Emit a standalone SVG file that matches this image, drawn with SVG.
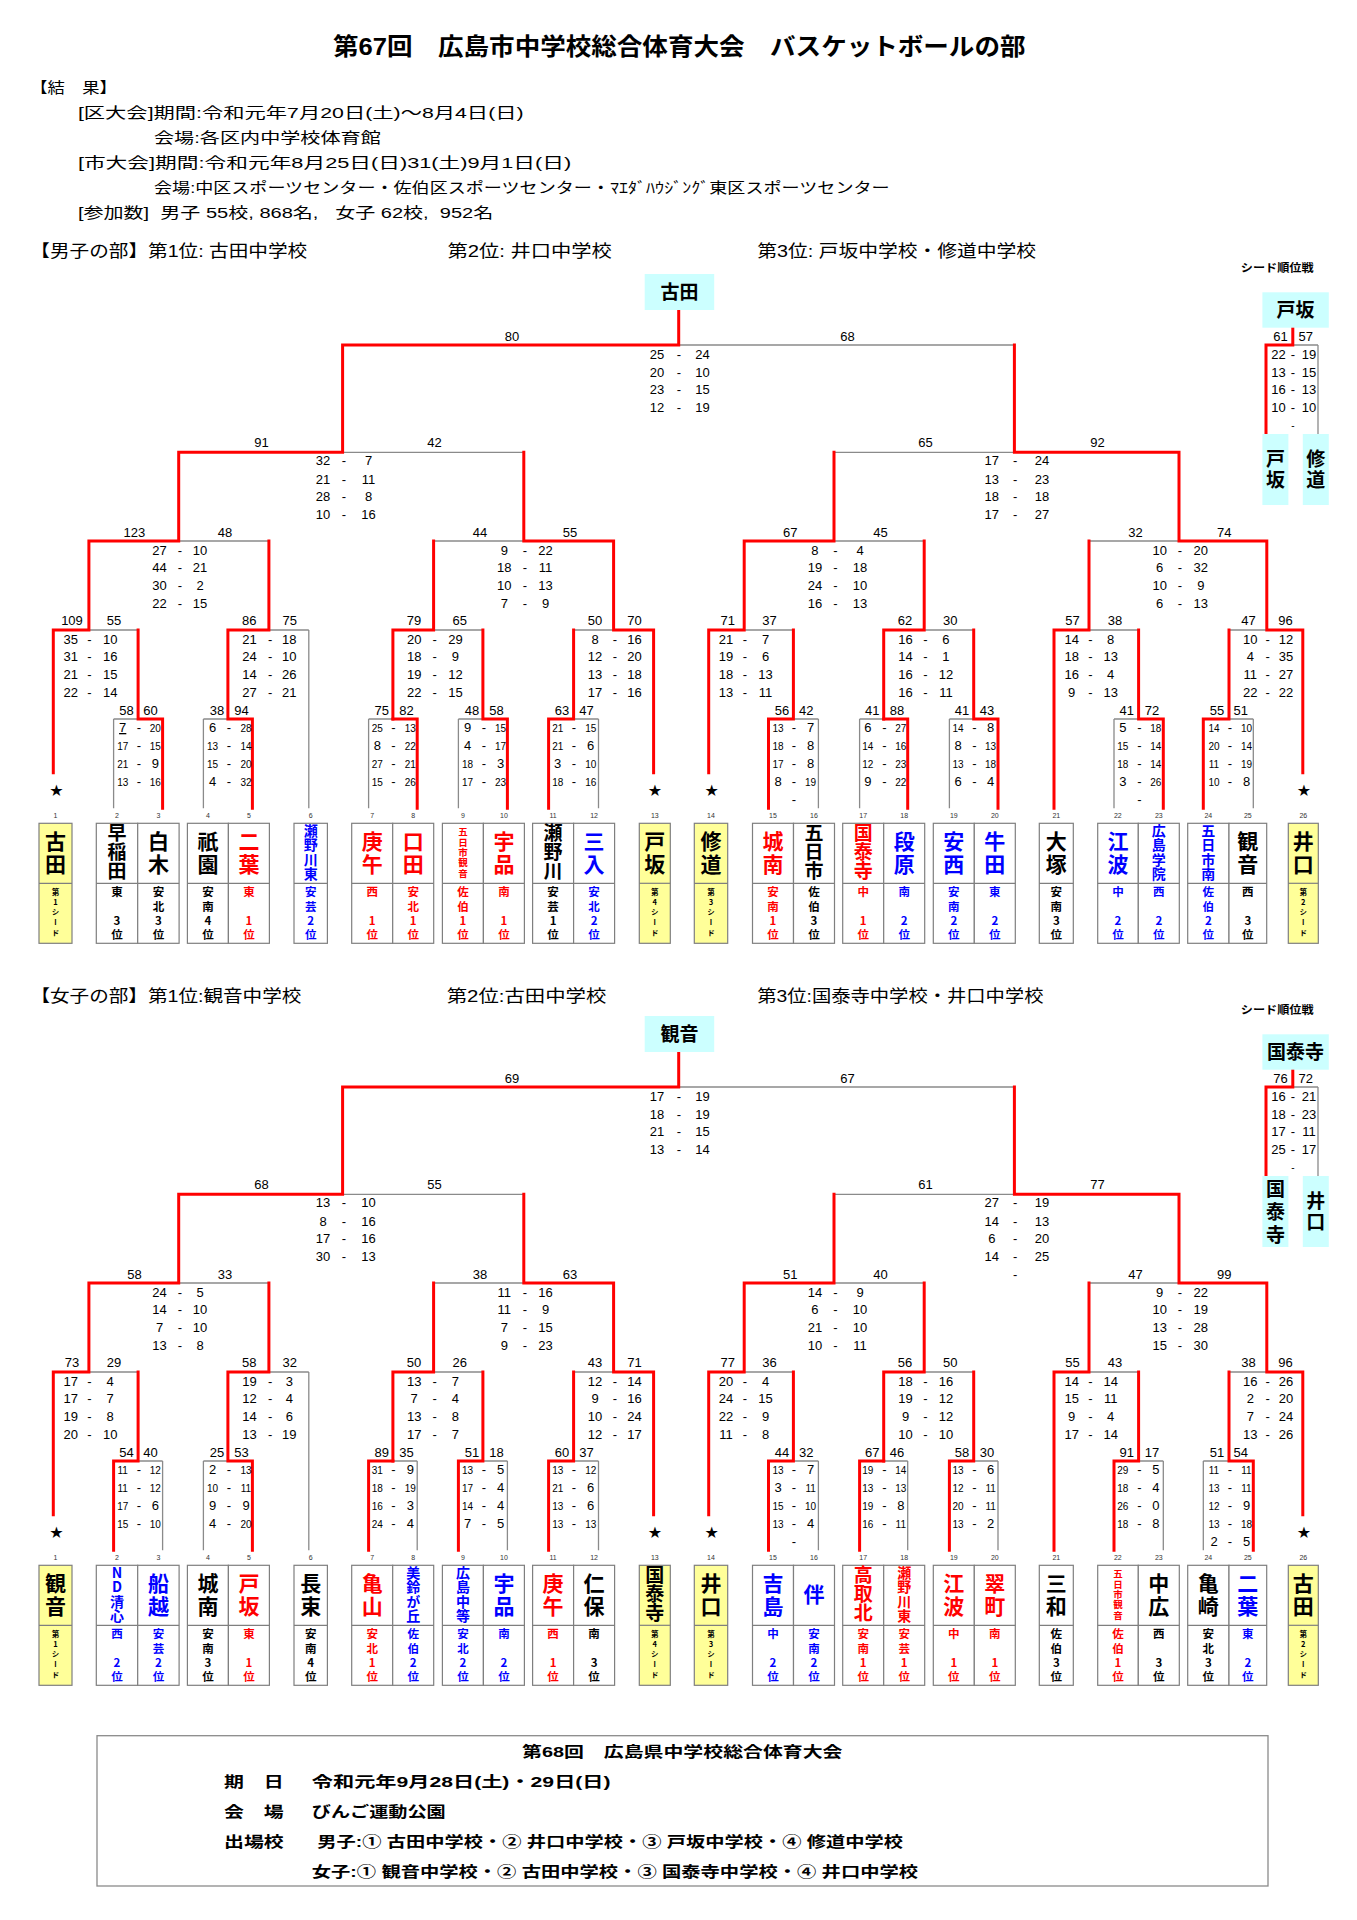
<svg xmlns="http://www.w3.org/2000/svg" xmlns:xlink="http://www.w3.org/1999/xlink" width="1357" height="1920" viewBox="0 0 1357 1920">
<style>
text{font-family:"Liberation Sans","Noto Sans CJK JP",sans-serif;fill:#000}
.hd{font-size:15px}
.hb{font-size:17px}
.ttl{font-size:24px;font-weight:bold}
.ft{font-size:15px;font-weight:bold}
.num{font-family:"Liberation Sans","DejaVu Sans",sans-serif;font-size:13px;text-anchor:middle}
.s{font-size:10px}
.sn{font-family:"Liberation Sans",sans-serif;font-size:7px;text-anchor:middle;fill:#333}
.star{font-family:"DejaVu Sans",sans-serif;font-size:16px;text-anchor:middle}
.bx{font-family:"Noto Sans CJK JP",sans-serif;font-weight:bold;font-size:19px;text-anchor:middle}
.sq{font-family:"Noto Sans CJK JP",sans-serif;font-weight:bold;font-size:11px}
.v{writing-mode:vertical-rl;text-orientation:upright;text-anchor:start}
.nm{font-family:"Noto Sans CJK JP",sans-serif;font-weight:bold;font-size:21px;letter-spacing:2px}
.n3{font-size:19px;letter-spacing:0}
.n4{font-size:14px;letter-spacing:.5px}
.n5{font-size:9.5px;letter-spacing:.8px}
.sb{font-family:"Noto Sans CJK JP",sans-serif;font-weight:bold;font-size:11.5px;letter-spacing:2.8px}
.sd{font-family:"Noto Sans CJK JP",sans-serif;font-weight:bold;font-size:7.5px;letter-spacing:2.7px}
.k2{letter-spacing:2.7px}.k3{letter-spacing:4.3px}
.rd{fill:#ff0000}.bl{fill:#0000ff}
.c{fill:#fff;stroke:#7f7f7f;stroke-width:1.2}
.y{fill:#ffff99;stroke:#7f7f7f;stroke-width:1.2}
.dv{fill:none;stroke:#7f7f7f;stroke-width:1.2}
.cy{fill:#ccffff}
.g{fill:none;stroke:#8a8a8a;stroke-width:1.3}
.r{fill:none;stroke:#ff0000;stroke-width:3;stroke-linecap:square;stroke-linejoin:miter}
</style>
<defs>
<path id="gb" class="g" d="M53.3,630V772.7M113.6,719V808.3M162.6,719V808.3M203.4,719V808.3M252.4,719V808.3M308.8,630V808.3M368.6,719V808.3M417.2,719V808.3M458.4,719V808.3M507.4,719V808.3M548.6,719V808.3M598.5,719V808.3M653.6,630V772.7M708.7,630V772.7M768.5,719V808.3M818.4,719V808.3M859.6,719V808.3M907.7,719V808.3M949.4,719V808.3M998,719V808.3M1054,630V808.3M1114,719V808.3M1163.3,719V808.3M1203.3,719V808.3M1253.3,719V808.3M1302.8,630V772.7M113.6,719H162.6M203.4,719H252.4M368.6,719H417.2M458.4,719H507.4M548.6,719H598.5M768.5,719H818.4M859.6,719H907.7M949.4,719H998M1114,719H1163.3M1203.3,719H1253.3M53.3,630H138.1M227.9,630H308.8M392.9,630H482.9M573.6,630H653.6M708.7,630H793.4M883.7,630H973.7M1054,630H1138.6M1229,630H1302.8M88.9,541H268.9M433.6,541H613.6M744.2,541H924.2M1089,541H1266.8M178.7,452.3H523.8M834,452.3H1179M342.6,345H1014.4M1266,345H1318M1318,345V434"/>
<path id="rc" class="r" d="M53.3,772.7V630H88.9V541H178.7V452.3H342.6V345H678.7V310M653.6,772.7V630H613.6V541H523.8V452.3M708.7,772.7V630H744.2V541H834V452.3M1302.8,772.7V630H1266.8V541H1179V452.3H1014.4V345M252.4,808.3V719H227.9V630H268.9V541M392.9,719V630H433.6V541M883.7,719V630H924.2V541M1054,808.3V630H1089V541M1292.8,327.7V345H1266V434"/>
</defs>
<rect width="1357" height="1920" fill="#fff"/>

<g id="header">
<text class="ttl" x="333" y="55" textLength="692.5" lengthAdjust="spacingAndGlyphs">第67回　広島市中学校総合体育大会　バスケットボールの部</text>
<text class="hd" x="30.3" y="93" textLength="86.5" lengthAdjust="spacingAndGlyphs">【結　果】</text>
<text class="hd" x="77.9" y="117.5" textLength="445.7" lengthAdjust="spacingAndGlyphs">[区大会]期間:令和元年7月20日(土)～8月4日(日)</text>
<text class="hd" x="154" y="142.5" textLength="226.8" lengthAdjust="spacingAndGlyphs">会場:各区内中学校体育館</text>
<text class="hd" x="77.9" y="167.5" textLength="493.3" lengthAdjust="spacingAndGlyphs">[市大会]期間:令和元年8月25日(日)31(土)9月1日(日)</text>
<text class="hd" x="154" y="192.5" textLength="735.6" lengthAdjust="spacingAndGlyphs">会場:中区スポーツセンター・佐伯区スポーツセンター・ﾏｴﾀﾞﾊｳｼﾞﾝｸﾞ東区スポーツセンター</text>
<text class="hd" x="77.9" y="217.5" textLength="415.4" lengthAdjust="spacingAndGlyphs" xml:space="preserve">[参加数]  男子 55校, 868名,   女子 62校,  952名</text>
<text class="hb" x="30.3" y="256.5" textLength="276.9" lengthAdjust="spacingAndGlyphs">【男子の部】第1位: 古田中学校</text>
<text class="hb" x="447.4" y="256.5" textLength="164.4" lengthAdjust="spacingAndGlyphs">第2位: 井口中学校</text>
<text class="hb" x="757.2" y="256.5" textLength="278.7" lengthAdjust="spacingAndGlyphs">第3位: 戸坂中学校・修道中学校</text>
<text class="hb" x="30.4" y="1001.5" textLength="271" lengthAdjust="spacingAndGlyphs">【女子の部】第1位:観音中学校</text>
<text class="hb" x="446.7" y="1001.5" textLength="159.6" lengthAdjust="spacingAndGlyphs">第2位:古田中学校</text>
<text class="hb" x="757.2" y="1001.5" textLength="286.3" lengthAdjust="spacingAndGlyphs">第3位:国泰寺中学校・井口中学校</text>
</g>

<g id="connectors">
<use xlink:href="#gb"/>
<use xlink:href="#rc"/>
<path class="r" d="M162.6,808.3V719H138.1V630M417.2,808.3V719H392.9M507.4,808.3V719H482.9V630M548.6,808.3V719H573.6V630M768.5,808.3V719H793.4V630M907.7,808.3V719H883.7M998,808.3V719H973.7V630M1163.3,808.3V719H1138.6V630M1203.3,808.3V719H1229V630"/>
<g transform="translate(0,742)">
<use xlink:href="#gb"/>
<use xlink:href="#rc"/>
<path class="r" d="M113.6,808.3V719H138.1V630M368.6,808.3V719H392.9M458.4,808.3V719H482.9V630M548.6,808.3V719H573.6V630M768.5,808.3V719H793.4V630M859.6,808.3V719H883.7M949.4,808.3V719H973.7V630M1114,808.3V719H1138.6V630M1253.3,808.3V719H1229V630"/>
</g>
</g>

<g id="men">
<g id="m-champ"><rect class="cy" x="644.7" y="274" width="69.5" height="36"/><text class="bx" x="679.4" y="299">古田</text></g>
<text class="sq" x="1240.8" y="271.5" textLength="72.8" lengthAdjust="spacingAndGlyphs">シード順位戦</text>
<g id="m-seed-top"><rect class="cy" x="1262.4" y="292.3" width="66.4" height="35.4"/><text class="bx" x="1295.6" y="317">戸坂</text></g>
<g id="m-seed-a"><rect class="cy" x="1262.4" y="434" width="26" height="71"/><text class="bx v k2" x="1275.4" y="448.8">戸坂</text></g>
<g id="m-seed-b"><rect class="cy" x="1302.8" y="434" width="26" height="71"/><text class="bx v k2" x="1315.8" y="448.8">修道</text></g>

<g id="m-labels">
<text class="num" y="341.3"><tspan x="512">80</tspan><tspan x="847.4">68</tspan><tspan x="1280.6">61</tspan><tspan x="1305.8">57</tspan></text>
<text class="num" y="447.3"><tspan x="261.5">91</tspan><tspan x="434.5">42</tspan><tspan x="925.5">65</tspan><tspan x="1097.6">92</tspan></text>
<text class="num" y="537"><tspan x="134.4">123</tspan><tspan x="225">48</tspan><tspan x="480">44</tspan><tspan x="570">55</tspan><tspan x="790.2">67</tspan><tspan x="880.4">45</tspan><tspan x="1135.4">32</tspan><tspan x="1224.3">74</tspan></text>
<text class="num" y="625.3"><tspan x="72">109</tspan><tspan x="114">55</tspan><tspan x="249.3">86</tspan><tspan x="289.7">75</tspan><tspan x="414">79</tspan><tspan x="459.7">65</tspan><tspan x="595">50</tspan><tspan x="634.4">70</tspan><tspan x="727.7">71</tspan><tspan x="769.4">37</tspan><tspan x="905">62</tspan><tspan x="950.2">30</tspan><tspan x="1072.5">57</tspan><tspan x="1115">38</tspan><tspan x="1248.5">47</tspan><tspan x="1285.4">96</tspan></text>
<text class="num" y="714.6"><tspan x="126.6">58</tspan><tspan x="150.5">60</tspan><tspan x="216.9">38</tspan><tspan x="241.6">94</tspan><tspan x="381.7">75</tspan><tspan x="406.4">82</tspan><tspan x="471.9">48</tspan><tspan x="496.6">58</tspan><tspan x="562.1">63</tspan><tspan x="586.4">47</tspan><tspan x="782">56</tspan><tspan x="806.2">42</tspan><tspan x="872.2">41</tspan><tspan x="896.9">88</tspan><tspan x="962">41</tspan><tspan x="987.1">43</tspan><tspan x="1126.7">41</tspan><tspan x="1151.9">72</tspan><tspan x="1217">55</tspan><tspan x="1240.8">51</tspan></text>
</g>

<g id="m-scores">
<text class="num" y="359"><tspan x="657">25</tspan><tspan x="679">-</tspan><tspan x="702.6">24</tspan><tspan x="1278.5">22</tspan><tspan x="1293">-</tspan><tspan x="1309">19</tspan></text>
<text class="num" y="376.6"><tspan x="657">20</tspan><tspan x="679">-</tspan><tspan x="702.6">10</tspan><tspan x="1278.5">13</tspan><tspan x="1293">-</tspan><tspan x="1309">15</tspan></text>
<text class="num" y="394.3"><tspan x="657">23</tspan><tspan x="679">-</tspan><tspan x="702.6">15</tspan><tspan x="1278.5">16</tspan><tspan x="1293">-</tspan><tspan x="1309">13</tspan></text>
<text class="num" y="412"><tspan x="657">12</tspan><tspan x="679">-</tspan><tspan x="702.6">19</tspan><tspan x="1278.5">10</tspan><tspan x="1293">-</tspan><tspan x="1309">10</tspan></text>
<text class="num s" y="429"><tspan x="1293">-</tspan></text>
<text class="num" y="465.3"><tspan x="323">32</tspan><tspan x="344">-</tspan><tspan x="368.6">7</tspan><tspan x="991.8">17</tspan><tspan x="1015.2">-</tspan><tspan x="1042">24</tspan></text>
<text class="num" y="483.6"><tspan x="323">21</tspan><tspan x="344">-</tspan><tspan x="368.6">11</tspan><tspan x="991.8">13</tspan><tspan x="1015.2">-</tspan><tspan x="1042">23</tspan></text>
<text class="num" y="501.3"><tspan x="323">28</tspan><tspan x="344">-</tspan><tspan x="368.6">8</tspan><tspan x="991.8">18</tspan><tspan x="1015.2">-</tspan><tspan x="1042">18</tspan></text>
<text class="num" y="519"><tspan x="323">10</tspan><tspan x="344">-</tspan><tspan x="368.6">16</tspan><tspan x="991.8">17</tspan><tspan x="1015.2">-</tspan><tspan x="1042">27</tspan></text>
<text class="num" y="554.6"><tspan x="159.6">27</tspan><tspan x="180">-</tspan><tspan x="200">10</tspan><tspan x="504.3">9</tspan><tspan x="525">-</tspan><tspan x="545.5">22</tspan><tspan x="814.9">8</tspan><tspan x="835.3">-</tspan><tspan x="860">4</tspan><tspan x="1159.7">10</tspan><tspan x="1180">-</tspan><tspan x="1200.8">20</tspan></text>
<text class="num" y="572.3"><tspan x="159.6">44</tspan><tspan x="180">-</tspan><tspan x="200">21</tspan><tspan x="504.3">18</tspan><tspan x="525">-</tspan><tspan x="545.5">11</tspan><tspan x="814.9">19</tspan><tspan x="835.3">-</tspan><tspan x="860">18</tspan><tspan x="1159.7">6</tspan><tspan x="1180">-</tspan><tspan x="1200.8">32</tspan></text>
<text class="num" y="590.3"><tspan x="159.6">30</tspan><tspan x="180">-</tspan><tspan x="200">2</tspan><tspan x="504.3">10</tspan><tspan x="525">-</tspan><tspan x="545.5">13</tspan><tspan x="814.9">24</tspan><tspan x="835.3">-</tspan><tspan x="860">10</tspan><tspan x="1159.7">10</tspan><tspan x="1180">-</tspan><tspan x="1200.8">9</tspan></text>
<text class="num" y="608"><tspan x="159.6">22</tspan><tspan x="180">-</tspan><tspan x="200">15</tspan><tspan x="504.3">7</tspan><tspan x="525">-</tspan><tspan x="545.5">9</tspan><tspan x="814.9">16</tspan><tspan x="835.3">-</tspan><tspan x="860">13</tspan><tspan x="1159.7">6</tspan><tspan x="1180">-</tspan><tspan x="1200.8">13</tspan></text>
<text class="num" y="643.6"><tspan x="70.7">35</tspan><tspan x="89.3">-</tspan><tspan x="110.2">10</tspan><tspan x="249.4">21</tspan><tspan x="270.2">-</tspan><tspan x="289.3">18</tspan><tspan x="414.2">20</tspan><tspan x="434.6">-</tspan><tspan x="455.4">29</tspan><tspan x="595">8</tspan><tspan x="615">-</tspan><tspan x="634.5">16</tspan><tspan x="726">21</tspan><tspan x="745">-</tspan><tspan x="765.5">7</tspan><tspan x="905.6">16</tspan><tspan x="925.5">-</tspan><tspan x="945.9">6</tspan><tspan x="1071.7">14</tspan><tspan x="1090.3">-</tspan><tspan x="1110.7">8</tspan><tspan x="1250.3">10</tspan><tspan x="1267.7">-</tspan><tspan x="1286">12</tspan></text>
<text class="num" y="661.3"><tspan x="70.7">31</tspan><tspan x="89.3">-</tspan><tspan x="110.2">16</tspan><tspan x="249.4">24</tspan><tspan x="270.2">-</tspan><tspan x="289.3">10</tspan><tspan x="414.2">18</tspan><tspan x="434.6">-</tspan><tspan x="455.4">9</tspan><tspan x="595">12</tspan><tspan x="615">-</tspan><tspan x="634.5">20</tspan><tspan x="726">19</tspan><tspan x="745">-</tspan><tspan x="765.5">6</tspan><tspan x="905.6">14</tspan><tspan x="925.5">-</tspan><tspan x="945.9">1</tspan><tspan x="1071.7">18</tspan><tspan x="1090.3">-</tspan><tspan x="1110.7">13</tspan><tspan x="1250.3">4</tspan><tspan x="1267.7">-</tspan><tspan x="1286">35</tspan></text>
<text class="num" y="679"><tspan x="70.7">21</tspan><tspan x="89.3">-</tspan><tspan x="110.2">15</tspan><tspan x="249.4">14</tspan><tspan x="270.2">-</tspan><tspan x="289.3">26</tspan><tspan x="414.2">19</tspan><tspan x="434.6">-</tspan><tspan x="455.4">12</tspan><tspan x="595">13</tspan><tspan x="615">-</tspan><tspan x="634.5">18</tspan><tspan x="726">18</tspan><tspan x="745">-</tspan><tspan x="765.5">13</tspan><tspan x="905.6">16</tspan><tspan x="925.5">-</tspan><tspan x="945.9">12</tspan><tspan x="1071.7">16</tspan><tspan x="1090.3">-</tspan><tspan x="1110.7">4</tspan><tspan x="1250.3">11</tspan><tspan x="1267.7">-</tspan><tspan x="1286">27</tspan></text>
<text class="num" y="697"><tspan x="70.7">22</tspan><tspan x="89.3">-</tspan><tspan x="110.2">14</tspan><tspan x="249.4">27</tspan><tspan x="270.2">-</tspan><tspan x="289.3">21</tspan><tspan x="414.2">22</tspan><tspan x="434.6">-</tspan><tspan x="455.4">15</tspan><tspan x="595">17</tspan><tspan x="615">-</tspan><tspan x="634.5">16</tspan><tspan x="726">13</tspan><tspan x="745">-</tspan><tspan x="765.5">11</tspan><tspan x="905.6">16</tspan><tspan x="925.5">-</tspan><tspan x="945.9">11</tspan><tspan x="1071.7">9</tspan><tspan x="1090.3">-</tspan><tspan x="1110.7">13</tspan><tspan x="1250.3">22</tspan><tspan x="1267.7">-</tspan><tspan x="1286">22</tspan></text>
<text class="num" y="732"><tspan x="122.7" style="text-decoration:underline">7</tspan><tspan x="138.8">-</tspan><tspan x="155.3" class="s">20</tspan><tspan x="212.5">6</tspan><tspan x="229">-</tspan><tspan x="246" class="s">28</tspan><tspan x="377.3" class="s">25</tspan><tspan x="393.4">-</tspan><tspan x="410.3" class="s">13</tspan><tspan x="467.5">9</tspan><tspan x="484">-</tspan><tspan x="500.5" class="s">15</tspan><tspan x="557.7" class="s">21</tspan><tspan x="573.8">-</tspan><tspan x="590.7" class="s">15</tspan><tspan x="778" class="s">13</tspan><tspan x="794">-</tspan><tspan x="810.6">7</tspan><tspan x="867.8">6</tspan><tspan x="884.3">-</tspan><tspan x="900.8" class="s">27</tspan><tspan x="958" class="s">14</tspan><tspan x="974.5">-</tspan><tspan x="990.6">8</tspan><tspan x="1122.8">5</tspan><tspan x="1139.3">-</tspan><tspan x="1155.8" class="s">18</tspan><tspan x="1214" class="s">14</tspan><tspan x="1230">-</tspan><tspan x="1246.5" class="s">10</tspan></text>
<text class="num" y="750"><tspan x="122.7" class="s">17</tspan><tspan x="138.8">-</tspan><tspan x="155.3" class="s">15</tspan><tspan x="212.5" class="s">13</tspan><tspan x="229">-</tspan><tspan x="246" class="s">14</tspan><tspan x="377.3">8</tspan><tspan x="393.4">-</tspan><tspan x="410.3" class="s">22</tspan><tspan x="467.5">4</tspan><tspan x="484">-</tspan><tspan x="500.5" class="s">17</tspan><tspan x="557.7" class="s">21</tspan><tspan x="573.8">-</tspan><tspan x="590.7">6</tspan><tspan x="778" class="s">18</tspan><tspan x="794">-</tspan><tspan x="810.6">8</tspan><tspan x="867.8" class="s">14</tspan><tspan x="884.3">-</tspan><tspan x="900.8" class="s">16</tspan><tspan x="958">8</tspan><tspan x="974.5">-</tspan><tspan x="990.6" class="s">13</tspan><tspan x="1122.8" class="s">15</tspan><tspan x="1139.3">-</tspan><tspan x="1155.8" class="s">14</tspan><tspan x="1214" class="s">20</tspan><tspan x="1230">-</tspan><tspan x="1246.5" class="s">14</tspan></text>
<text class="num" y="768"><tspan x="122.7" class="s">21</tspan><tspan x="138.8">-</tspan><tspan x="155.3">9</tspan><tspan x="212.5" class="s">15</tspan><tspan x="229">-</tspan><tspan x="246" class="s">20</tspan><tspan x="377.3" class="s">27</tspan><tspan x="393.4">-</tspan><tspan x="410.3" class="s">21</tspan><tspan x="467.5" class="s">18</tspan><tspan x="484">-</tspan><tspan x="500.5">3</tspan><tspan x="557.7">3</tspan><tspan x="573.8">-</tspan><tspan x="590.7" class="s">10</tspan><tspan x="778" class="s">17</tspan><tspan x="794">-</tspan><tspan x="810.6">8</tspan><tspan x="867.8" class="s">12</tspan><tspan x="884.3">-</tspan><tspan x="900.8" class="s">23</tspan><tspan x="958" class="s">13</tspan><tspan x="974.5">-</tspan><tspan x="990.6" class="s">18</tspan><tspan x="1122.8" class="s">18</tspan><tspan x="1139.3">-</tspan><tspan x="1155.8" class="s">14</tspan><tspan x="1214" class="s">11</tspan><tspan x="1230">-</tspan><tspan x="1246.5" class="s">19</tspan></text>
<text class="num" y="785.6"><tspan x="122.7" class="s">13</tspan><tspan x="138.8">-</tspan><tspan x="155.3" class="s">16</tspan><tspan x="212.5">4</tspan><tspan x="229">-</tspan><tspan x="246" class="s">32</tspan><tspan x="377.3" class="s">15</tspan><tspan x="393.4">-</tspan><tspan x="410.3" class="s">26</tspan><tspan x="467.5" class="s">17</tspan><tspan x="484">-</tspan><tspan x="500.5" class="s">23</tspan><tspan x="557.7" class="s">18</tspan><tspan x="573.8">-</tspan><tspan x="590.7" class="s">16</tspan><tspan x="778">8</tspan><tspan x="794">-</tspan><tspan x="810.6" class="s">19</tspan><tspan x="867.8">9</tspan><tspan x="884.3">-</tspan><tspan x="900.8" class="s">22</tspan><tspan x="958">6</tspan><tspan x="974.5">-</tspan><tspan x="990.6">4</tspan><tspan x="1122.8">3</tspan><tspan x="1139.3">-</tspan><tspan x="1155.8" class="s">26</tspan><tspan x="1214" class="s">10</tspan><tspan x="1230">-</tspan><tspan x="1246.5">8</tspan></text>
<text class="num" y="803.6"><tspan x="794">-</tspan><tspan x="1139.3">-</tspan></text>
</g>

<g id="m-marks">
<text class="star" y="795.5"><tspan x="56.4">★</tspan><tspan x="654.9">★</tspan><tspan x="711.7">★</tspan><tspan x="1304">★</tspan></text>
<text class="sn" y="818"><tspan x="55.5">1</tspan><tspan x="117">2</tspan><tspan x="158.4">3</tspan><tspan x="207.9">4</tspan><tspan x="248.9">5</tspan><tspan x="310.7">6</tspan><tspan x="372.2">7</tspan><tspan x="413.2">8</tspan><tspan x="462.9">9</tspan><tspan x="503.9">10</tspan><tspan x="553.1">11</tspan><tspan x="594.1">12</tspan><tspan x="654.8">13</tspan><tspan x="711">14</tspan><tspan x="773">15</tspan><tspan x="814">16</tspan><tspan x="863.2">17</tspan><tspan x="904.2">18</tspan><tspan x="953.8">19</tspan><tspan x="994.8">20</tspan><tspan x="1056.3">21</tspan><tspan x="1117.8">22</tspan><tspan x="1158.8">23</tspan><tspan x="1208.3">24</tspan><tspan x="1247.8">25</tspan><tspan x="1303.3">26</tspan></text>
</g>

<g id="m01"><rect class="y" x="39" y="823.3" width="33" height="120"/><path class="dv" d="M39,883.3h33"/><text class="v nm" x="55.5" y="830.5">古田</text><text class="v sd" x="55.5" y="888.2">第1シード</text></g>
<g id="m02"><rect class="c" x="96.3" y="823.3" width="41.4" height="120"/><path class="dv" d="M96.3,883.3h41.4"/><text class="v nm n3" x="117" y="823.5">早稲田</text><text class="v sb" x="117" y="886.2">東　3位</text></g>
<g id="m03"><rect class="c" x="137.7" y="823.3" width="41.4" height="120"/><path class="dv" d="M137.7,883.3h41.4"/><text class="v nm" x="158.4" y="830.5">白木</text><text class="v sb" x="158.4" y="886.2">安北3位</text></g>
<g id="m04"><rect class="c" x="187.4" y="823.3" width="41" height="120"/><path class="dv" d="M187.4,883.3h41"/><text class="v nm" x="207.9" y="830.5">祇園</text><text class="v sb" x="207.9" y="886.2">安南4位</text></g>
<g id="m05"><rect class="c" x="228.4" y="823.3" width="41" height="120"/><path class="dv" d="M228.4,883.3h41"/><text class="v nm rd" x="248.9" y="830.5">二葉</text><text class="v sb rd" x="248.9" y="886.2">東　1位</text></g>
<g id="m06"><rect class="c" x="294" y="823.3" width="33.4" height="120"/><path class="dv" d="M294,883.3h33.4"/><text class="v nm n4 bl" x="310.7" y="823.5">瀬野川東</text><text class="v sb bl" x="310.7" y="886.2">安芸2位</text></g>
<g id="m07"><rect class="c" x="351.7" y="823.3" width="41" height="120"/><path class="dv" d="M351.7,883.3h41"/><text class="v nm rd" x="372.2" y="830.5">庚午</text><text class="v sb rd" x="372.2" y="886.2">西　1位</text></g>
<g id="m08"><rect class="c" x="392.7" y="823.3" width="41" height="120"/><path class="dv" d="M392.7,883.3h41"/><text class="v nm rd" x="413.2" y="830.5">口田</text><text class="v sb rd" x="413.2" y="886.2">安北1位</text></g>
<g id="m09"><rect class="c" x="442.4" y="823.3" width="41" height="120"/><path class="dv" d="M442.4,883.3h41"/><text class="v nm n5 rd" x="462.9" y="827">五日市観音</text><text class="v sb rd" x="462.9" y="886.2">佐伯1位</text></g>
<g id="m10"><rect class="c" x="483.4" y="823.3" width="41" height="120"/><path class="dv" d="M483.4,883.3h41"/><text class="v nm rd" x="503.9" y="830.5">宇品</text><text class="v sb rd" x="503.9" y="886.2">南　1位</text></g>
<g id="m11"><rect class="c" x="532.6" y="823.3" width="41" height="120"/><path class="dv" d="M532.6,883.3h41"/><text class="v nm n3" x="553.1" y="823.5">瀬野川</text><text class="v sb" x="553.1" y="886.2">安芸1位</text></g>
<g id="m12"><rect class="c" x="573.6" y="823.3" width="41" height="120"/><path class="dv" d="M573.6,883.3h41"/><text class="v nm bl" x="594.1" y="830.5">三入</text><text class="v sb bl" x="594.1" y="886.2">安北2位</text></g>
<g id="m13"><rect class="y" x="639.3" y="823.3" width="31" height="120"/><path class="dv" d="M639.3,883.3h31"/><text class="v nm" x="654.8" y="830.5">戸坂</text><text class="v sd" x="654.8" y="888.2">第4シード</text></g>
<g id="m14"><rect class="y" x="694.3" y="823.3" width="33.4" height="120"/><path class="dv" d="M694.3,883.3h33.4"/><text class="v nm" x="711" y="830.5">修道</text><text class="v sd" x="711" y="888.2">第3シード</text></g>
<g id="m15"><rect class="c" x="752.5" y="823.3" width="41" height="120"/><path class="dv" d="M752.5,883.3h41"/><text class="v nm rd" x="773" y="830.5">城南</text><text class="v sb rd" x="773" y="886.2">安南1位</text></g>
<g id="m16"><rect class="c" x="793.5" y="823.3" width="41" height="120"/><path class="dv" d="M793.5,883.3h41"/><text class="v nm n3" x="814" y="823.5">五日市</text><text class="v sb" x="814" y="886.2">佐伯3位</text></g>
<g id="m17"><rect class="c" x="842.7" y="823.3" width="41" height="120"/><path class="dv" d="M842.7,883.3h41"/><text class="v nm n3 rd" x="863.2" y="823.5">国泰寺</text><text class="v sb rd" x="863.2" y="886.2">中　1位</text></g>
<g id="m18"><rect class="c" x="883.7" y="823.3" width="41" height="120"/><path class="dv" d="M883.7,883.3h41"/><text class="v nm bl" x="904.2" y="830.5">段原</text><text class="v sb bl" x="904.2" y="886.2">南　2位</text></g>
<g id="m19"><rect class="c" x="933.3" y="823.3" width="41" height="120"/><path class="dv" d="M933.3,883.3h41"/><text class="v nm bl" x="953.8" y="830.5">安西</text><text class="v sb bl" x="953.8" y="886.2">安南2位</text></g>
<g id="m20"><rect class="c" x="974.3" y="823.3" width="41" height="120"/><path class="dv" d="M974.3,883.3h41"/><text class="v nm bl" x="994.8" y="830.5">牛田</text><text class="v sb bl" x="994.8" y="886.2">東　2位</text></g>
<g id="m21"><rect class="c" x="1039.3" y="823.3" width="34" height="120"/><path class="dv" d="M1039.3,883.3h34"/><text class="v nm" x="1056.3" y="830.5">大塚</text><text class="v sb" x="1056.3" y="886.2">安南3位</text></g>
<g id="m22"><rect class="c" x="1097.7" y="823.3" width="40.6" height="120"/><path class="dv" d="M1097.7,883.3h40.6"/><text class="v nm bl" x="1118" y="830.5">江波</text><text class="v sb bl" x="1118" y="886.2">中　2位</text></g>
<g id="m23"><rect class="c" x="1138.3" y="823.3" width="41" height="120"/><path class="dv" d="M1138.3,883.3h41"/><text class="v nm n4 bl" x="1158.8" y="823.5">広島学院</text><text class="v sb bl" x="1158.8" y="886.2">西　2位</text></g>
<g id="m24"><rect class="c" x="1187.7" y="823.3" width="41.3" height="120"/><path class="dv" d="M1187.7,883.3h41.3"/><text class="v nm n4 bl" x="1208.3" y="823.5">五日市南</text><text class="v sb bl" x="1208.3" y="886.2">佐伯2位</text></g>
<g id="m25"><rect class="c" x="1229" y="823.3" width="37.7" height="120"/><path class="dv" d="M1229,883.3h37.7"/><text class="v nm" x="1247.8" y="830.5">観音</text><text class="v sb" x="1247.8" y="886.2">西　3位</text></g>
<g id="m26"><rect class="y" x="1288.3" y="823.3" width="30" height="120"/><path class="dv" d="M1288.3,883.3h30"/><text class="v nm" x="1303.3" y="830.5">井口</text><text class="v sd" x="1303.3" y="888.2">第2シード</text></g>
</g>

<g id="women" transform="translate(0,742)">
<g id="w-champ"><rect class="cy" x="644.7" y="274" width="69.5" height="36"/><text class="bx" x="679.4" y="299">観音</text></g>
<text class="sq" x="1240.8" y="271.5" textLength="72.8" lengthAdjust="spacingAndGlyphs">シード順位戦</text>
<g id="w-seed-top"><rect class="cy" x="1262.4" y="292.3" width="66.4" height="35.4"/><text class="bx" x="1295.6" y="317">国泰寺</text></g>
<g id="w-seed-a"><rect class="cy" x="1262.4" y="434" width="26" height="71"/><text class="bx v k3" x="1275.4" y="436.8">国泰寺</text></g>
<g id="w-seed-b"><rect class="cy" x="1302.8" y="434" width="26" height="71"/><text class="bx v k2" x="1315.8" y="448.8">井口</text></g>

<g id="w-labels">
<text class="num" y="341.3"><tspan x="512">69</tspan><tspan x="847.4">67</tspan><tspan x="1280.6">76</tspan><tspan x="1305.8">72</tspan></text>
<text class="num" y="447.3"><tspan x="261.5">68</tspan><tspan x="434.5">55</tspan><tspan x="925.5">61</tspan><tspan x="1097.6">77</tspan></text>
<text class="num" y="537"><tspan x="134.4">58</tspan><tspan x="225">33</tspan><tspan x="480">38</tspan><tspan x="570">63</tspan><tspan x="790.2">51</tspan><tspan x="880.4">40</tspan><tspan x="1135.4">47</tspan><tspan x="1224.3">99</tspan></text>
<text class="num" y="625.3"><tspan x="72">73</tspan><tspan x="114">29</tspan><tspan x="249.3">58</tspan><tspan x="289.7">32</tspan><tspan x="414">50</tspan><tspan x="459.7">26</tspan><tspan x="595">43</tspan><tspan x="634.4">71</tspan><tspan x="727.7">77</tspan><tspan x="769.4">36</tspan><tspan x="905">56</tspan><tspan x="950.2">50</tspan><tspan x="1072.5">55</tspan><tspan x="1115">43</tspan><tspan x="1248.5">38</tspan><tspan x="1285.4">96</tspan></text>
<text class="num" y="714.6"><tspan x="126.6">54</tspan><tspan x="150.5">40</tspan><tspan x="216.9">25</tspan><tspan x="241.6">53</tspan><tspan x="381.7">89</tspan><tspan x="406.4">35</tspan><tspan x="471.9">51</tspan><tspan x="496.6">18</tspan><tspan x="562.1">60</tspan><tspan x="586.4">37</tspan><tspan x="782">44</tspan><tspan x="806.2">32</tspan><tspan x="872.2">67</tspan><tspan x="896.9">46</tspan><tspan x="962">58</tspan><tspan x="987.1">30</tspan><tspan x="1126.7">91</tspan><tspan x="1151.9">17</tspan><tspan x="1217">51</tspan><tspan x="1240.8">54</tspan></text>
</g>

<g id="w-scores">
<text class="num" y="359"><tspan x="657">17</tspan><tspan x="679">-</tspan><tspan x="702.6">19</tspan><tspan x="1278.5">16</tspan><tspan x="1293">-</tspan><tspan x="1309">21</tspan></text>
<text class="num" y="376.6"><tspan x="657">18</tspan><tspan x="679">-</tspan><tspan x="702.6">19</tspan><tspan x="1278.5">18</tspan><tspan x="1293">-</tspan><tspan x="1309">23</tspan></text>
<text class="num" y="394.3"><tspan x="657">21</tspan><tspan x="679">-</tspan><tspan x="702.6">15</tspan><tspan x="1278.5">17</tspan><tspan x="1293">-</tspan><tspan x="1309">11</tspan></text>
<text class="num" y="412"><tspan x="657">13</tspan><tspan x="679">-</tspan><tspan x="702.6">14</tspan><tspan x="1278.5">25</tspan><tspan x="1293">-</tspan><tspan x="1309">17</tspan></text>
<text class="num s" y="429"><tspan x="1293">-</tspan></text>
<text class="num" y="465.3"><tspan x="323">13</tspan><tspan x="344">-</tspan><tspan x="368.6">10</tspan><tspan x="991.8">27</tspan><tspan x="1015.2">-</tspan><tspan x="1042">19</tspan></text>
<text class="num" y="483.6"><tspan x="323">8</tspan><tspan x="344">-</tspan><tspan x="368.6">16</tspan><tspan x="991.8">14</tspan><tspan x="1015.2">-</tspan><tspan x="1042">13</tspan></text>
<text class="num" y="501.3"><tspan x="323">17</tspan><tspan x="344">-</tspan><tspan x="368.6">16</tspan><tspan x="991.8">6</tspan><tspan x="1015.2">-</tspan><tspan x="1042">20</tspan></text>
<text class="num" y="519"><tspan x="323">30</tspan><tspan x="344">-</tspan><tspan x="368.6">13</tspan><tspan x="991.8">14</tspan><tspan x="1015.2">-</tspan><tspan x="1042">25</tspan></text>
<text class="num" y="536.6"><tspan x="1015.2">-</tspan></text>
<text class="num" y="554.6"><tspan x="159.6">24</tspan><tspan x="180">-</tspan><tspan x="200">5</tspan><tspan x="504.3">11</tspan><tspan x="525">-</tspan><tspan x="545.5">16</tspan><tspan x="814.9">14</tspan><tspan x="835.3">-</tspan><tspan x="860">9</tspan><tspan x="1159.7">9</tspan><tspan x="1180">-</tspan><tspan x="1200.8">22</tspan></text>
<text class="num" y="572.3"><tspan x="159.6">14</tspan><tspan x="180">-</tspan><tspan x="200">10</tspan><tspan x="504.3">11</tspan><tspan x="525">-</tspan><tspan x="545.5">9</tspan><tspan x="814.9">6</tspan><tspan x="835.3">-</tspan><tspan x="860">10</tspan><tspan x="1159.7">10</tspan><tspan x="1180">-</tspan><tspan x="1200.8">19</tspan></text>
<text class="num" y="590.3"><tspan x="159.6">7</tspan><tspan x="180">-</tspan><tspan x="200">10</tspan><tspan x="504.3">7</tspan><tspan x="525">-</tspan><tspan x="545.5">15</tspan><tspan x="814.9">21</tspan><tspan x="835.3">-</tspan><tspan x="860">10</tspan><tspan x="1159.7">13</tspan><tspan x="1180">-</tspan><tspan x="1200.8">28</tspan></text>
<text class="num" y="608"><tspan x="159.6">13</tspan><tspan x="180">-</tspan><tspan x="200">8</tspan><tspan x="504.3">9</tspan><tspan x="525">-</tspan><tspan x="545.5">23</tspan><tspan x="814.9">10</tspan><tspan x="835.3">-</tspan><tspan x="860">11</tspan><tspan x="1159.7">15</tspan><tspan x="1180">-</tspan><tspan x="1200.8">30</tspan></text>
<text class="num" y="643.6"><tspan x="70.7">17</tspan><tspan x="89.3">-</tspan><tspan x="110.2">4</tspan><tspan x="249.4">19</tspan><tspan x="270.2">-</tspan><tspan x="289.3">3</tspan><tspan x="414.2">13</tspan><tspan x="434.6">-</tspan><tspan x="455.4">7</tspan><tspan x="595">12</tspan><tspan x="615">-</tspan><tspan x="634.5">14</tspan><tspan x="726">20</tspan><tspan x="745">-</tspan><tspan x="765.5">4</tspan><tspan x="905.6">18</tspan><tspan x="925.5">-</tspan><tspan x="945.9">16</tspan><tspan x="1071.7">14</tspan><tspan x="1090.3">-</tspan><tspan x="1110.7">14</tspan><tspan x="1250.3">16</tspan><tspan x="1267.7">-</tspan><tspan x="1286">26</tspan></text>
<text class="num" y="661.3"><tspan x="70.7">17</tspan><tspan x="89.3">-</tspan><tspan x="110.2">7</tspan><tspan x="249.4">12</tspan><tspan x="270.2">-</tspan><tspan x="289.3">4</tspan><tspan x="414.2">7</tspan><tspan x="434.6">-</tspan><tspan x="455.4">4</tspan><tspan x="595">9</tspan><tspan x="615">-</tspan><tspan x="634.5">16</tspan><tspan x="726">24</tspan><tspan x="745">-</tspan><tspan x="765.5">15</tspan><tspan x="905.6">19</tspan><tspan x="925.5">-</tspan><tspan x="945.9">12</tspan><tspan x="1071.7">15</tspan><tspan x="1090.3">-</tspan><tspan x="1110.7">11</tspan><tspan x="1250.3">2</tspan><tspan x="1267.7">-</tspan><tspan x="1286">20</tspan></text>
<text class="num" y="679"><tspan x="70.7">19</tspan><tspan x="89.3">-</tspan><tspan x="110.2">8</tspan><tspan x="249.4">14</tspan><tspan x="270.2">-</tspan><tspan x="289.3">6</tspan><tspan x="414.2">13</tspan><tspan x="434.6">-</tspan><tspan x="455.4">8</tspan><tspan x="595">10</tspan><tspan x="615">-</tspan><tspan x="634.5">24</tspan><tspan x="726">22</tspan><tspan x="745">-</tspan><tspan x="765.5">9</tspan><tspan x="905.6">9</tspan><tspan x="925.5">-</tspan><tspan x="945.9">12</tspan><tspan x="1071.7">9</tspan><tspan x="1090.3">-</tspan><tspan x="1110.7">4</tspan><tspan x="1250.3">7</tspan><tspan x="1267.7">-</tspan><tspan x="1286">24</tspan></text>
<text class="num" y="697"><tspan x="70.7">20</tspan><tspan x="89.3">-</tspan><tspan x="110.2">10</tspan><tspan x="249.4">13</tspan><tspan x="270.2">-</tspan><tspan x="289.3">19</tspan><tspan x="414.2">17</tspan><tspan x="434.6">-</tspan><tspan x="455.4">7</tspan><tspan x="595">12</tspan><tspan x="615">-</tspan><tspan x="634.5">17</tspan><tspan x="726">11</tspan><tspan x="745">-</tspan><tspan x="765.5">8</tspan><tspan x="905.6">10</tspan><tspan x="925.5">-</tspan><tspan x="945.9">10</tspan><tspan x="1071.7">17</tspan><tspan x="1090.3">-</tspan><tspan x="1110.7">14</tspan><tspan x="1250.3">13</tspan><tspan x="1267.7">-</tspan><tspan x="1286">26</tspan></text>
<text class="num" y="732"><tspan x="122.7" class="s">11</tspan><tspan x="138.8">-</tspan><tspan x="155.3" class="s">12</tspan><tspan x="212.5">2</tspan><tspan x="229">-</tspan><tspan x="246" class="s">13</tspan><tspan x="377.3" class="s">31</tspan><tspan x="393.4">-</tspan><tspan x="410.3">9</tspan><tspan x="467.5" class="s">13</tspan><tspan x="484">-</tspan><tspan x="500.5">5</tspan><tspan x="557.7" class="s">13</tspan><tspan x="573.8">-</tspan><tspan x="590.7" class="s">12</tspan><tspan x="778" class="s">13</tspan><tspan x="794">-</tspan><tspan x="810.6">7</tspan><tspan x="867.8" class="s">19</tspan><tspan x="884.3">-</tspan><tspan x="900.8" class="s">14</tspan><tspan x="958" class="s">13</tspan><tspan x="974.5">-</tspan><tspan x="990.6">6</tspan><tspan x="1122.8" class="s">29</tspan><tspan x="1139.3">-</tspan><tspan x="1155.8">5</tspan><tspan x="1214" class="s">11</tspan><tspan x="1230">-</tspan><tspan x="1246.5" class="s">11</tspan></text>
<text class="num" y="750"><tspan x="122.7" class="s">11</tspan><tspan x="138.8">-</tspan><tspan x="155.3" class="s">12</tspan><tspan x="212.5" class="s">10</tspan><tspan x="229">-</tspan><tspan x="246" class="s">11</tspan><tspan x="377.3" class="s">18</tspan><tspan x="393.4">-</tspan><tspan x="410.3" class="s">19</tspan><tspan x="467.5" class="s">17</tspan><tspan x="484">-</tspan><tspan x="500.5">4</tspan><tspan x="557.7" class="s">21</tspan><tspan x="573.8">-</tspan><tspan x="590.7">6</tspan><tspan x="778">3</tspan><tspan x="794">-</tspan><tspan x="810.6" class="s">11</tspan><tspan x="867.8" class="s">13</tspan><tspan x="884.3">-</tspan><tspan x="900.8" class="s">13</tspan><tspan x="958" class="s">12</tspan><tspan x="974.5">-</tspan><tspan x="990.6" class="s">11</tspan><tspan x="1122.8" class="s">18</tspan><tspan x="1139.3">-</tspan><tspan x="1155.8">4</tspan><tspan x="1214" class="s">13</tspan><tspan x="1230">-</tspan><tspan x="1246.5" class="s">11</tspan></text>
<text class="num" y="768"><tspan x="122.7" class="s">17</tspan><tspan x="138.8">-</tspan><tspan x="155.3">6</tspan><tspan x="212.5">9</tspan><tspan x="229">-</tspan><tspan x="246">9</tspan><tspan x="377.3" class="s">16</tspan><tspan x="393.4">-</tspan><tspan x="410.3">3</tspan><tspan x="467.5" class="s">14</tspan><tspan x="484">-</tspan><tspan x="500.5">4</tspan><tspan x="557.7" class="s">13</tspan><tspan x="573.8">-</tspan><tspan x="590.7">6</tspan><tspan x="778" class="s">15</tspan><tspan x="794">-</tspan><tspan x="810.6" class="s">10</tspan><tspan x="867.8" class="s">19</tspan><tspan x="884.3">-</tspan><tspan x="900.8">8</tspan><tspan x="958" class="s">20</tspan><tspan x="974.5">-</tspan><tspan x="990.6" class="s">11</tspan><tspan x="1122.8" class="s">26</tspan><tspan x="1139.3">-</tspan><tspan x="1155.8">0</tspan><tspan x="1214" class="s">12</tspan><tspan x="1230">-</tspan><tspan x="1246.5">9</tspan></text>
<text class="num" y="785.6"><tspan x="122.7" class="s">15</tspan><tspan x="138.8">-</tspan><tspan x="155.3" class="s">10</tspan><tspan x="212.5">4</tspan><tspan x="229">-</tspan><tspan x="246" class="s">20</tspan><tspan x="377.3" class="s">24</tspan><tspan x="393.4">-</tspan><tspan x="410.3">4</tspan><tspan x="467.5">7</tspan><tspan x="484">-</tspan><tspan x="500.5">5</tspan><tspan x="557.7" class="s">13</tspan><tspan x="573.8">-</tspan><tspan x="590.7" class="s">13</tspan><tspan x="778" class="s">13</tspan><tspan x="794">-</tspan><tspan x="810.6">4</tspan><tspan x="867.8" class="s">16</tspan><tspan x="884.3">-</tspan><tspan x="900.8" class="s">11</tspan><tspan x="958" class="s">13</tspan><tspan x="974.5">-</tspan><tspan x="990.6">2</tspan><tspan x="1122.8" class="s">18</tspan><tspan x="1139.3">-</tspan><tspan x="1155.8">8</tspan><tspan x="1214" class="s">13</tspan><tspan x="1230">-</tspan><tspan x="1246.5" class="s">18</tspan></text>
<text class="num" y="803.6"><tspan x="794">-</tspan><tspan x="1214">2</tspan><tspan x="1230">-</tspan><tspan x="1246.5">5</tspan></text>
</g>

<g id="w-marks">
<text class="star" y="795.5"><tspan x="56.4">★</tspan><tspan x="654.9">★</tspan><tspan x="711.7">★</tspan><tspan x="1304">★</tspan></text>
<text class="sn" y="818"><tspan x="55.5">1</tspan><tspan x="117">2</tspan><tspan x="158.4">3</tspan><tspan x="207.9">4</tspan><tspan x="248.9">5</tspan><tspan x="310.7">6</tspan><tspan x="372.2">7</tspan><tspan x="413.2">8</tspan><tspan x="462.9">9</tspan><tspan x="503.9">10</tspan><tspan x="553.1">11</tspan><tspan x="594.1">12</tspan><tspan x="654.8">13</tspan><tspan x="711">14</tspan><tspan x="773">15</tspan><tspan x="814">16</tspan><tspan x="863.2">17</tspan><tspan x="904.2">18</tspan><tspan x="953.8">19</tspan><tspan x="994.8">20</tspan><tspan x="1056.3">21</tspan><tspan x="1117.8">22</tspan><tspan x="1158.8">23</tspan><tspan x="1208.3">24</tspan><tspan x="1247.8">25</tspan><tspan x="1303.3">26</tspan></text>
</g>

<g id="w01"><rect class="y" x="39" y="823.3" width="33" height="120"/><path class="dv" d="M39,883.3h33"/><text class="v nm" x="55.5" y="830.5">観音</text><text class="v sd" x="55.5" y="888.2">第1シード</text></g>
<g id="w02"><rect class="c" x="96.3" y="823.3" width="41.4" height="120"/><path class="dv" d="M96.3,883.3h41.4"/><text class="v nm n4 bl" x="117" y="823.5">ND清心</text><text class="v sb bl" x="117" y="886.2">西　2位</text></g>
<g id="w03"><rect class="c" x="137.7" y="823.3" width="41.4" height="120"/><path class="dv" d="M137.7,883.3h41.4"/><text class="v nm bl" x="158.4" y="830.5">船越</text><text class="v sb bl" x="158.4" y="886.2">安芸2位</text></g>
<g id="w04"><rect class="c" x="187.4" y="823.3" width="41" height="120"/><path class="dv" d="M187.4,883.3h41"/><text class="v nm" x="207.9" y="830.5">城南</text><text class="v sb" x="207.9" y="886.2">安南3位</text></g>
<g id="w05"><rect class="c" x="228.4" y="823.3" width="41" height="120"/><path class="dv" d="M228.4,883.3h41"/><text class="v nm rd" x="248.9" y="830.5">戸坂</text><text class="v sb rd" x="248.9" y="886.2">東　1位</text></g>
<g id="w06"><rect class="c" x="294" y="823.3" width="33.4" height="120"/><path class="dv" d="M294,883.3h33.4"/><text class="v nm" x="310.7" y="830.5">長束</text><text class="v sb" x="310.7" y="886.2">安南4位</text></g>
<g id="w07"><rect class="c" x="351.7" y="823.3" width="41" height="120"/><path class="dv" d="M351.7,883.3h41"/><text class="v nm rd" x="372.2" y="830.5">亀山</text><text class="v sb rd" x="372.2" y="886.2">安北1位</text></g>
<g id="w08"><rect class="c" x="392.7" y="823.3" width="41" height="120"/><path class="dv" d="M392.7,883.3h41"/><text class="v nm n4 bl" x="413.2" y="823.5">美鈴が丘</text><text class="v sb bl" x="413.2" y="886.2">佐伯2位</text></g>
<g id="w09"><rect class="c" x="442.4" y="823.3" width="41" height="120"/><path class="dv" d="M442.4,883.3h41"/><text class="v nm n4 bl" x="462.9" y="823.5">広島中等</text><text class="v sb bl" x="462.9" y="886.2">安北2位</text></g>
<g id="w10"><rect class="c" x="483.4" y="823.3" width="41" height="120"/><path class="dv" d="M483.4,883.3h41"/><text class="v nm bl" x="503.9" y="830.5">宇品</text><text class="v sb bl" x="503.9" y="886.2">南　2位</text></g>
<g id="w11"><rect class="c" x="532.6" y="823.3" width="41" height="120"/><path class="dv" d="M532.6,883.3h41"/><text class="v nm rd" x="553.1" y="830.5">庚午</text><text class="v sb rd" x="553.1" y="886.2">西　1位</text></g>
<g id="w12"><rect class="c" x="573.6" y="823.3" width="41" height="120"/><path class="dv" d="M573.6,883.3h41"/><text class="v nm" x="594.1" y="830.5">仁保</text><text class="v sb" x="594.1" y="886.2">南　3位</text></g>
<g id="w13"><rect class="y" x="639.3" y="823.3" width="31" height="120"/><path class="dv" d="M639.3,883.3h31"/><text class="v nm n3" x="654.8" y="823.5">国泰寺</text><text class="v sd" x="654.8" y="888.2">第4シード</text></g>
<g id="w14"><rect class="y" x="694.3" y="823.3" width="33.4" height="120"/><path class="dv" d="M694.3,883.3h33.4"/><text class="v nm" x="711" y="830.5">井口</text><text class="v sd" x="711" y="888.2">第3シード</text></g>
<g id="w15"><rect class="c" x="752.5" y="823.3" width="41" height="120"/><path class="dv" d="M752.5,883.3h41"/><text class="v nm bl" x="773" y="830.5">吉島</text><text class="v sb bl" x="773" y="886.2">中　2位</text></g>
<g id="w16"><rect class="c" x="793.5" y="823.3" width="41" height="120"/><path class="dv" d="M793.5,883.3h41"/><text class="v nm bl" x="814" y="841.8">伴</text><text class="v sb bl" x="814" y="886.2">安南2位</text></g>
<g id="w17"><rect class="c" x="842.7" y="823.3" width="41" height="120"/><path class="dv" d="M842.7,883.3h41"/><text class="v nm n3 rd" x="863.2" y="823.5">高取北</text><text class="v sb rd" x="863.2" y="886.2">安南1位</text></g>
<g id="w18"><rect class="c" x="883.7" y="823.3" width="41" height="120"/><path class="dv" d="M883.7,883.3h41"/><text class="v nm n4 rd" x="904.2" y="823.5">瀬野川東</text><text class="v sb rd" x="904.2" y="886.2">安芸1位</text></g>
<g id="w19"><rect class="c" x="933.3" y="823.3" width="41" height="120"/><path class="dv" d="M933.3,883.3h41"/><text class="v nm rd" x="953.8" y="830.5">江波</text><text class="v sb rd" x="953.8" y="886.2">中　1位</text></g>
<g id="w20"><rect class="c" x="974.3" y="823.3" width="41" height="120"/><path class="dv" d="M974.3,883.3h41"/><text class="v nm rd" x="994.8" y="830.5">翠町</text><text class="v sb rd" x="994.8" y="886.2">南　1位</text></g>
<g id="w21"><rect class="c" x="1039.3" y="823.3" width="34" height="120"/><path class="dv" d="M1039.3,883.3h34"/><text class="v nm" x="1056.3" y="830.5">三和</text><text class="v sb" x="1056.3" y="886.2">佐伯3位</text></g>
<g id="w22"><rect class="c" x="1097.7" y="823.3" width="40.6" height="120"/><path class="dv" d="M1097.7,883.3h40.6"/><text class="v nm n5 rd" x="1118" y="827">五日市観音</text><text class="v sb rd" x="1118" y="886.2">佐伯1位</text></g>
<g id="w23"><rect class="c" x="1138.3" y="823.3" width="41" height="120"/><path class="dv" d="M1138.3,883.3h41"/><text class="v nm" x="1158.8" y="830.5">中広</text><text class="v sb" x="1158.8" y="886.2">西　3位</text></g>
<g id="w24"><rect class="c" x="1187.7" y="823.3" width="41.3" height="120"/><path class="dv" d="M1187.7,883.3h41.3"/><text class="v nm" x="1208.3" y="830.5">亀崎</text><text class="v sb" x="1208.3" y="886.2">安北3位</text></g>
<g id="w25"><rect class="c" x="1229" y="823.3" width="37.7" height="120"/><path class="dv" d="M1229,883.3h37.7"/><text class="v nm bl" x="1247.8" y="830.5">二葉</text><text class="v sb bl" x="1247.8" y="886.2">東　2位</text></g>
<g id="w26"><rect class="y" x="1288.3" y="823.3" width="30" height="120"/><path class="dv" d="M1288.3,883.3h30"/><text class="v nm" x="1303.3" y="830.5">古田</text><text class="v sd" x="1303.3" y="888.2">第2シード</text></g>
</g>

<g id="footer">
<rect x="97" y="1735.7" width="1171" height="150.3" fill="none" stroke="#8a8a8a" stroke-width="1.3"/>
<text class="ft" x="522" y="1757.4" textLength="320.5" lengthAdjust="spacingAndGlyphs">第68回　広島県中学校総合体育大会</text>
<text class="ft" x="224" y="1787.4" textLength="59.8" lengthAdjust="spacingAndGlyphs">期　日</text>
<text class="ft" x="311.8" y="1787.4" textLength="298.8" lengthAdjust="spacingAndGlyphs">令和元年9月28日(土)・29日(日)</text>
<text class="ft" x="224" y="1816.7" textLength="59.8" lengthAdjust="spacingAndGlyphs">会　場</text>
<text class="ft" x="311.8" y="1816.7" textLength="133.9" lengthAdjust="spacingAndGlyphs">びんご運動公園</text>
<text class="ft" x="224" y="1847.4" textLength="59.8" lengthAdjust="spacingAndGlyphs">出場校</text>
<text class="ft" x="317.3" y="1847.4" textLength="585.7" lengthAdjust="spacingAndGlyphs">男子:① 古田中学校・② 井口中学校・③ 戸坂中学校・④ 修道中学校</text>
<text class="ft" x="311.8" y="1877.4" textLength="606.2" lengthAdjust="spacingAndGlyphs">女子:① 観音中学校・② 古田中学校・③ 国泰寺中学校・④ 井口中学校</text>
</g>
</svg>
